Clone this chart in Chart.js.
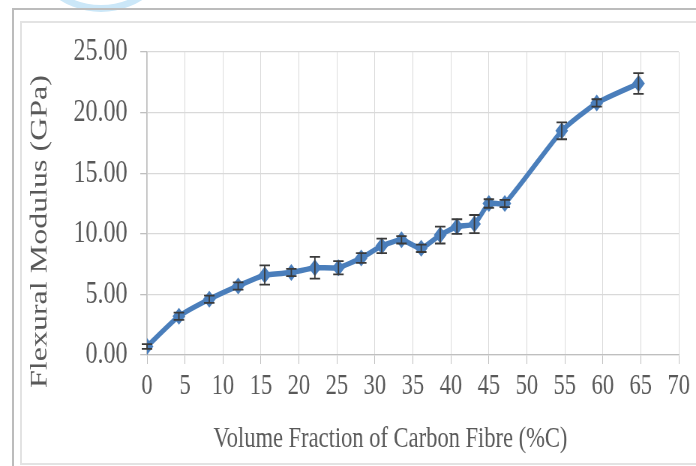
<!DOCTYPE html>
<html>
<head>
<meta charset="utf-8">
<script src="https://cdn.jsdelivr.net/npm/chart.js@4/dist/chart.umd.min.js"></script>
<style>
    html, body { margin: 0; padding: 0; background: #fff; }
    #stage { position: relative; width: 696px; height: 466px; overflow: hidden; background: #fff; }
    .ring { position: absolute; left: 24px; top: -142px; width: 140px; height: 140px;
            border: 7px solid #cbe7f8; border-radius: 50%; }
    .frame-outer { position: absolute; left: 12px; top: 8px; width: 720px; height: 480px;
                   border: 2px solid #bcbcbc; }
    .frame-inner { position: absolute; left: 20px; top: 21px; width: 720px; height: 440px;
                   border: 2px solid #e3e3e3; border-right: none; }
    /* the reference is squeezed sideways, so the canvas is drawn wider and scaled back */
    #wrap { position: absolute; left: 0; top: 0; width: 928px; height: 466px;
            transform: scaleX(0.75); transform-origin: 0 0; }
</style>
</head>
<body>
<div id="stage">
    <div class="ring"></div>
    <div class="frame-outer"></div>
    <div class="frame-inner"></div>
    <div id="wrap"><canvas id="chart" width="928" height="466"></canvas></div>
</div>
<script>
// volume fraction of carbon fibre (%C)
const fractions = [0, 4.2, 8.2, 12.0, 15.5, 19.0, 22.1, 25.2, 28.2, 30.9,
                   33.5, 36.1, 38.6, 40.8, 43.1, 45.0, 47.1, 54.6, 59.2, 64.7];
// flexural modulus (GPa)
const modulus = [0.7, 3.2, 4.6, 5.7, 6.6, 6.8, 7.2, 7.2, 8.0, 9.0,
                 9.5, 8.8, 9.9, 10.6, 10.8, 12.5, 12.5, 18.5, 20.8, 22.4];
// error bar half heights (GPa)
const errors = [0.2, 0.3, 0.3, 0.3, 0.8, 0.3, 0.9, 0.55, 0.4, 0.6,
                0.3, 0.3, 0.7, 0.6, 0.75, 0.35, 0.3, 0.7, 0.3, 0.85];

const FONT = 'Liberation Serif';
const TEXT = '#595959';
const GRID = '#d9d9d9';
const AXIS = '#bfbfbf';

const errorBars = {
    id: 'errorBars',
    afterDatasetsDraw(chart) {
        const { ctx, scales: { x, y } } = chart;
        ctx.save();
        ctx.strokeStyle = '#3a3a3a';
        ctx.lineWidth = 1.8;
        fractions.forEach((f, i) => {
            const px = x.getPixelForValue(f);
            const top = y.getPixelForValue(modulus[i] + errors[i]);
            const bot = y.getPixelForValue(modulus[i] - errors[i]);
            ctx.beginPath();
            ctx.moveTo(px, top); ctx.lineTo(px, bot);
            ctx.moveTo(px - 7, top); ctx.lineTo(px + 7, top);
            ctx.moveTo(px - 7, bot); ctx.lineTo(px + 7, bot);
            ctx.stroke();
        });
        ctx.restore();
    }
};

new Chart(document.getElementById('chart'), {
    type: 'line',
    data: {
        datasets: [{
            data: fractions.map((f, i) => ({ x: f, y: modulus[i] })),
            borderColor: '#4a7ebb',
            backgroundColor: '#4a7ebb',
            borderWidth: 5.5,
            tension: 0.15,
            pointStyle: 'rectRot',
            pointRadius: 8.5,
            pointBorderWidth: 0
        }]
    },
    options: {
        responsive: false,
        animation: false,
        layout: { padding: { top: 52, right: 23, left: 0, bottom: 0 } },
        plugins: { legend: { display: false }, tooltip: { enabled: false } },
        scales: {
            x: {
                type: 'linear',
                min: 0,
                max: 70,
                ticks: { stepSize: 5, color: TEXT, padding: 4, font: { family: FONT, size: 30 } },
                grid: { color: GRID, tickLength: 9, tickColor: AXIS },
                border: { color: AXIS, width: 1.3 },
                title: {
                    display: true,
                    // trailing spaces pull the title left, as in the reference
                    text: 'Volume Fraction of Carbon Fibre (%C)' + '\u00a0'.repeat(8),
                    color: TEXT,
                    font: { family: FONT, size: 30 },
                    padding: { top: 0, bottom: 9 }
                },
                afterFit: s => { s.height = 111; }
            },
            y: {
                min: 0,
                max: 25,
                ticks: {
                    stepSize: 5, color: TEXT, padding: 17,
                    font: { family: FONT, size: 32 },
                    callback: v => v.toFixed(2)
                },
                grid: { color: GRID, tickLength: 9, tickColor: AXIS, lineWidth: 1.3 },
                border: { color: AXIS, width: 1.3 },
                title: {
                    display: true,
                    // trailing spaces push the title down, as in the reference
                    text: 'Flexural Modulus (GPa)' + '\u00a0'.repeat(7),
                    color: TEXT,
                    font: { family: FONT, size: 32 },
                    padding: { top: 34, bottom: 0 }
                },
                afterFit: s => { s.width = 196; }
            }
        }
    },
    plugins: [errorBars]
});
</script>
</body>
</html>
